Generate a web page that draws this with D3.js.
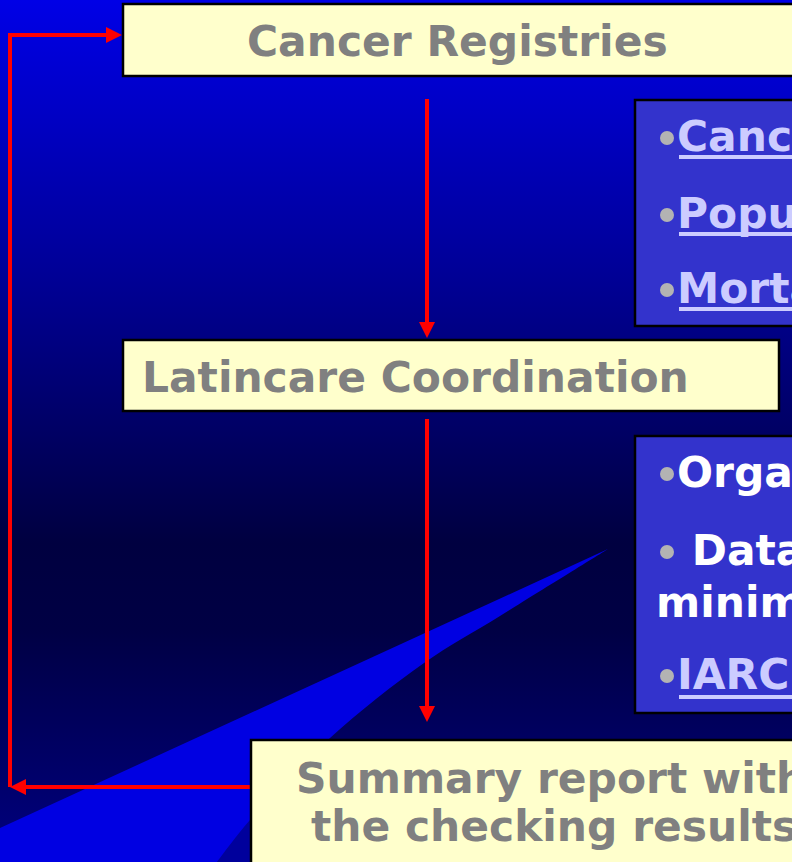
<!DOCTYPE html>
<html><head><meta charset="utf-8">
<script src="https://cdn.jsdelivr.net/npm/d3@7"></script>
<style>html,body{margin:0;padding:0;background:#000060;overflow:hidden}svg{display:block}</style>
</head><body><svg id="c" width="792" height="862"></svg>
<script>
// ---- content ----
const stepLabels = ["Cancer Registries", "Latincare Coordination"];
const reportLines = ["Summary report with", "the checking results"];
const inputItems = ["Cancer incidence data", "Population data", "Mortality data"];
const checkLines = ["Organization", " Data quality checks", "minimum", "IARC tools"];
const checkBullets = [true, true, false, true];
const checkLinks = [false, false, false, true];

// ---- layout ----
const W = 792, H = 862;
const FONT = "'DejaVu Sans', Verdana, sans-serif";
const FS = 42.4;
const svg = d3.select("#c");

const defs = svg.append("defs");
const bg = defs.append("linearGradient").attr("id", "bg").attr("x1", 0).attr("y1", 0).attr("x2", 0).attr("y2", 1);
[[0, "#0000e6"], [0.35, "#00008e"], [0.63, "#000040"], [0.73, "#000044"], [1, "#000080"]]
  .forEach(([o, c]) => bg.append("stop").attr("offset", o).attr("stop-color", c));

svg.append("rect").attr("width", W).attr("height", H).attr("fill", "url(#bg)");

// decorative wedges
const apex = [608, 549];
svg.append("path").attr("fill", "#00009c")
  .attr("d", d3.line()([[320, 745], [300, H], [150, H]]) + "Z");
const lowerEdge = [apex, [500, 616], [424, 663], [330, 738], [250, 820], [217, H]];
const curve = d3.line().curve(d3.curveCatmullRom)(lowerEdge);
svg.append("path").attr("fill", "#0000e2")
  .attr("d", curve + `L0,${H}L0,828Z`);

// red connectors
const arrows = [
  [[427, 99], [427, 338]],
  [[427, 419], [427, 722]],
  [[250, 787], [10, 787]],
  [[10, 787], [10, 35], [122, 35]]
];
const HEAD_L = 16, HEAD_W = 8;
arrows.forEach(pts => {
  const n = pts.length;
  const [x1, y1] = pts[n - 2], [x2, y2] = pts[n - 1];
  const len = Math.hypot(x2 - x1, y2 - y1), ux = (x2 - x1) / len, uy = (y2 - y1) / len;
  const base = [x2 - ux * HEAD_L, y2 - uy * HEAD_L];
  const linePts = pts.slice(0, n - 1).concat([[base[0] + ux * 2, base[1] + uy * 2]]);
  svg.append("path").attr("d", d3.line()(linePts)).attr("fill", "none")
    .attr("stroke", "#ff0000").attr("stroke-width", 4).attr("stroke-linejoin", "miter");
  const px = -uy, py = ux;
  svg.append("path").attr("fill", "#ff0000")
    .attr("d", d3.line()([[x2, y2], [base[0] + px * HEAD_W, base[1] + py * HEAD_W], [base[0] - px * HEAD_W, base[1] - py * HEAD_W]]) + "Z");
});

// yellow step boxes
const yellowBoxes = [
  {x: 123, y: 4, w: 700, h: 72},
  {x: 123, y: 340, w: 656, h: 71},
  {x: 251, y: 740, w: 600, h: 200}
];
svg.selectAll("rect.yb").data(yellowBoxes).join("rect").attr("class", "yb")
  .attr("x", d => d.x).attr("y", d => d.y).attr("width", d => d.w).attr("height", d => d.h)
  .attr("fill", "#ffffcc").attr("stroke", "#000").attr("stroke-width", 2.5);

const stepText = [{x: 247, y: 56}, {x: 142, y: 392}];
stepLabels.forEach((t, i) => {
  svg.append("text").attr("x", stepText[i].x).attr("y", stepText[i].y)
    .attr("font-family", FONT).attr("font-weight", "bold").attr("font-size", FS)
    .attr("fill", "#808080").text(t);
});
const reportPos = [{x: 296, y: 793}, {x: 311, y: 841}];
reportLines.forEach((t, i) => {
  svg.append("text").attr("x", reportPos[i].x).attr("y", reportPos[i].y)
    .attr("font-family", FONT).attr("font-weight", "bold").attr("font-size", FS)
    .attr("fill", "#808080").text(t);
});

// blue side boxes
const blueBoxes = [{x: 635, y: 100, w: 200, h: 226}, {x: 635, y: 436, w: 200, h: 277}];
svg.selectAll("rect.bb").data(blueBoxes).join("rect").attr("class", "bb")
  .attr("x", d => d.x).attr("y", d => d.y).attr("width", d => d.w).attr("height", d => d.h)
  .attr("fill", "#3333cc").attr("stroke", "#000").attr("stroke-width", 2.5);

const inputBase = [151, 228, 303];
inputItems.forEach((t, i) => {
  const b = inputBase[i];
  svg.append("circle").attr("cx", 667).attr("cy", b - 13).attr("r", 7).attr("fill", "#b3b3b3");
  svg.append("text").attr("x", 677).attr("y", b)
    .attr("font-family", FONT).attr("font-weight", "bold").attr("font-size", FS)
    .attr("fill", "#ccccff").text(t);
  svg.append("rect").attr("x", 679).attr("y", b + 4).attr("width", 200).attr("height", 4).attr("fill", "#ccccff");
});

const checkBase = [487, 565, 617, 689];
const checkX = [677, 677, 656, 677];
checkLines.forEach((t, i) => {
  const b = checkBase[i];
  if (checkBullets[i]) svg.append("circle").attr("cx", 667).attr("cy", b - 13).attr("r", 7).attr("fill", "#b3b3b3");
  svg.append("text").attr("x", checkX[i]).attr("y", b).attr("xml:space", "preserve")
    .style("white-space", "pre")
    .attr("font-family", FONT).attr("font-weight", "bold").attr("font-size", FS)
    .attr("fill", checkLinks[i] ? "#ccccff" : "#ffffff").text(t);
  if (checkLinks[i]) svg.append("rect").attr("x", 679).attr("y", b + 6).attr("width", 200).attr("height", 4).attr("fill", "#ccccff");
});
</script></body></html>
